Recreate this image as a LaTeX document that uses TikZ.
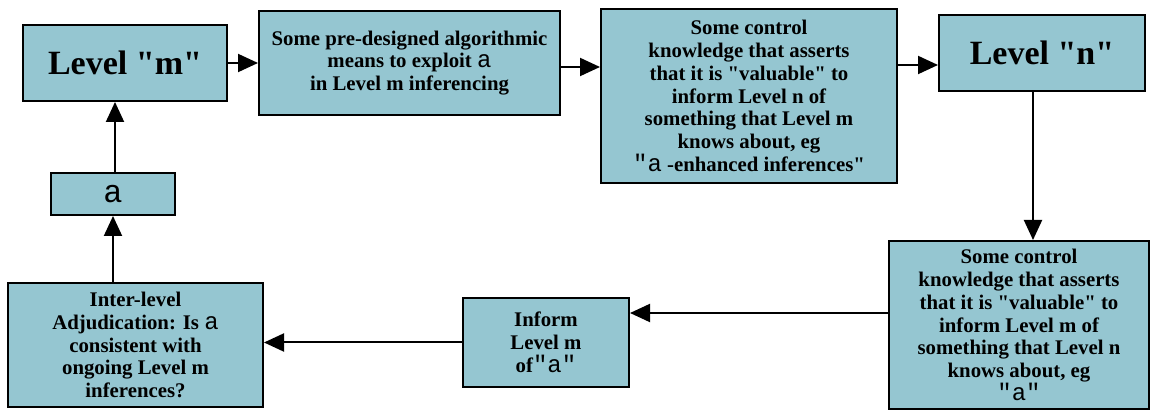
\documentclass[tikz,border=0pt]{standalone}
\usepackage{fontspec}
\setmainfont{Liberation Serif}
\newfontfamily\alfont{Liberation Mono}
\usetikzlibrary{arrows.meta}
\definecolor{boxblue}{RGB}{149,198,209}
\newcommand{\q}{\textquotedbl}
\newcommand{\almono}{\alfont\mdseries\fontsize{12pt}{11.4pt}\selectfont}
\newcommand{\al}{{\almono a}}
\begin{document}
\begin{tikzpicture}[x=0.5pt,y=-0.5pt,
    blk/.style={draw=black, line width=1pt, fill=boxblue, align=center,
        inner sep=0pt, font=\bfseries\fontsize{10.4pt}{11.4pt}\selectfont},
    big/.style={blk, font=\bfseries\fontsize{17pt}{20pt}\selectfont},
    arr/.style={line width=1pt, -{Triangle[length=10pt,width=9pt]}}]
    \useasboundingbox (0,0) rectangle (1151,410);
    % top row
    \node[big, minimum width=102pt, minimum height=38pt] (lvm) at (125,63) {Level \q m\q};
    \node[blk, minimum width=150.5pt, minimum height=52pt] (means) at (409.5,63)
        {Some pre-designed algorithmic\\ means to exploit \al\\ in Level m inferencing};
    \node[blk, minimum width=148pt, minimum height=87pt] (ctrln) at (749,96)
        {Some control\\ knowledge that asserts\\ that it is \q valuable\q{} to\\ inform Level n of\\
         something that Level m\\ knows about, eg\\ {\almono\q a} -enhanced inferences\q};
    \node[big, minimum width=103pt, minimum height=38pt] (lvn) at (1042,53) {Level \q n\q};
    % left column
    \node[blk, minimum width=62pt, minimum height=21pt,
        font=\alfont\fontsize{16pt}{18pt}\selectfont] (alpha) at (113,194) {a};
    \node[blk, minimum width=127.5pt, minimum height=62pt] (adjud) at (135.5,345)
        {Inter-level\\ Adjudication: Is \al\\ consistent with\\ ongoing Level m\\ inferences?};
    % bottom row
    \node[blk, minimum width=83pt, minimum height=44.5pt] (inform) at (546,342.5)
        {Inform\\ Level m\\ of{\almono\q a\q}};
    \node[blk, minimum width=130pt, minimum height=84pt] (ctrlm) at (1019,325)
        {Some control\\ knowledge that asserts\\ that it is \q valuable\q{} to\\ inform Level m of\\
         something that Level n\\ knows about, eg\\ {\almono\q a\q}};

    \draw[arr] (lvm.east) -- (lvm.east -| means.west);
    \draw[arr] ([yshift=-2pt]means.east) -- ([yshift=-2pt]means.east -| ctrln.west);
    \draw[arr] ([yshift=-6pt]lvn.west -| ctrln.east) -- ([yshift=-6pt]lvn.west);
    \draw[arr] ([xshift=-4.5pt]lvn.south) -- ([xshift=-4.5pt]lvn.south |- ctrlm.north);
    \draw[arr] ([yshift=6pt]ctrlm.west) -- ([yshift=6pt]ctrlm.west -| inform.east);
    \draw[arr] (inform.west) -- (inform.west -| adjud.east);
    \draw[arr] (alpha.south |- adjud.north) -- (alpha.south);
    \draw[arr] ([xshift=1pt]alpha.north) -- ([xshift=1pt]alpha.north |- lvm.south);
\end{tikzpicture}
\end{document}
